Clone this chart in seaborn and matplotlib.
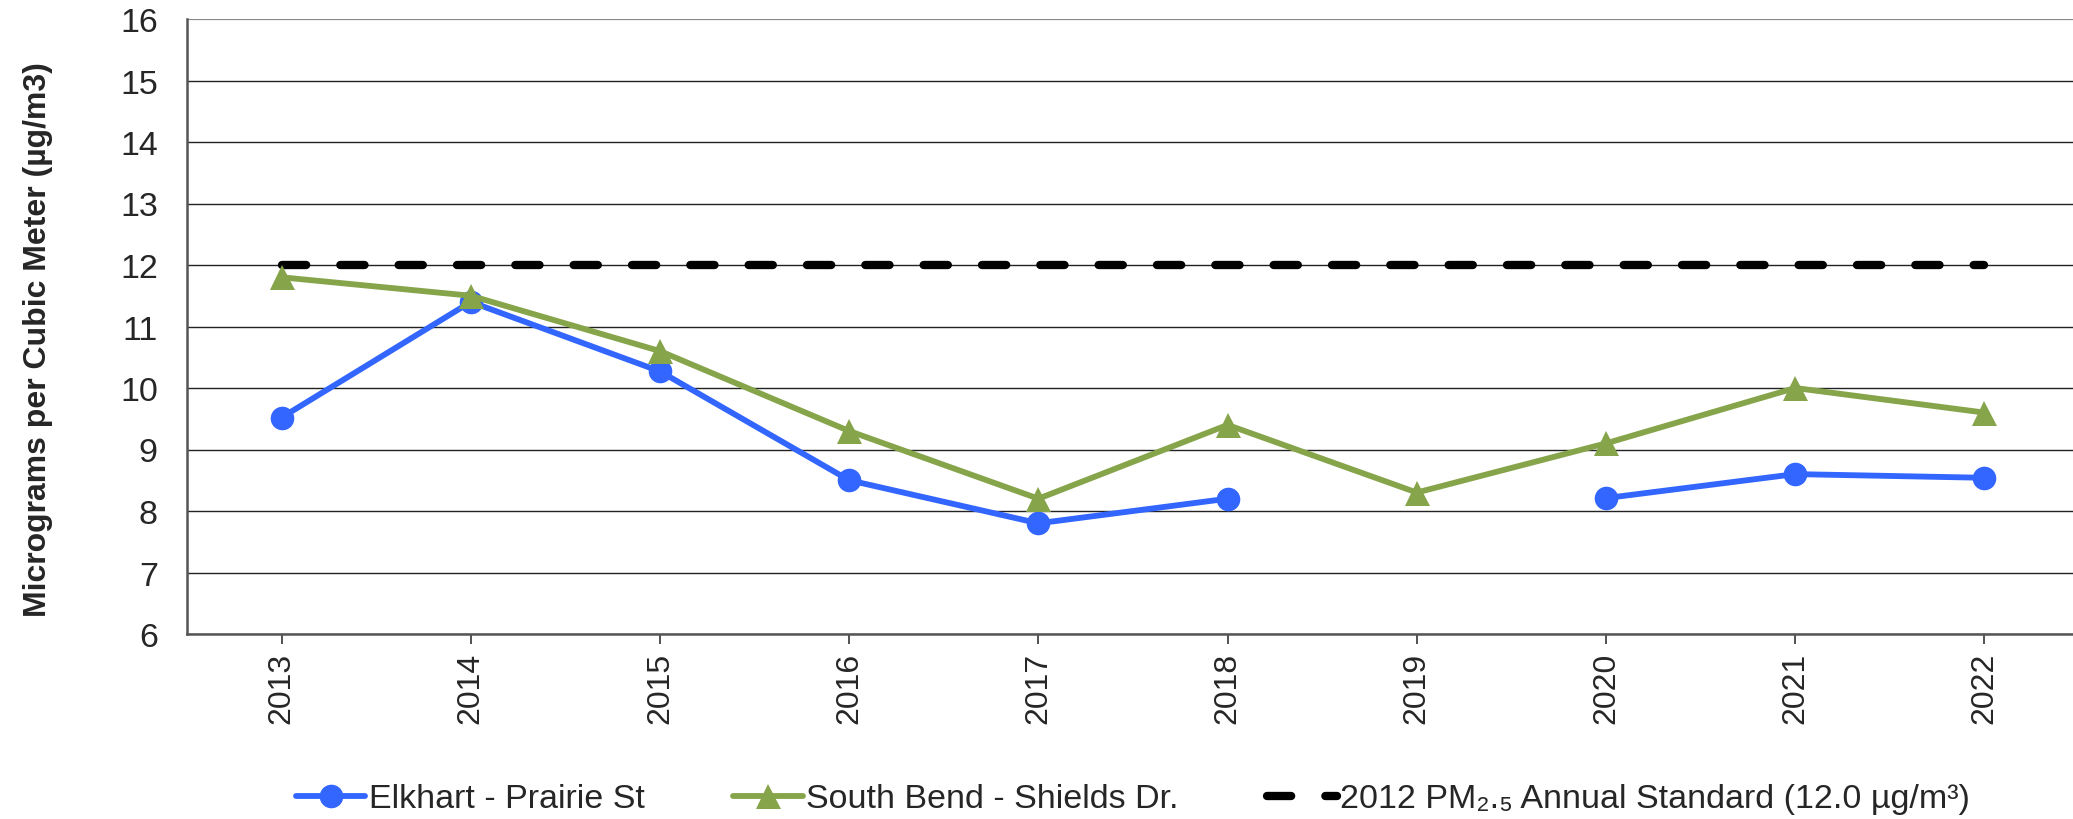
import numpy as np
import pandas as pd
import matplotlib
matplotlib.use("Agg")
import matplotlib.pyplot as plt
import seaborn as sns
from matplotlib.lines import Line2D

years = [2013, 2014, 2015, 2016, 2017, 2018, 2019, 2020, 2021, 2022]
elkhart = [9.52, 11.40, 10.27, 8.50, 7.80, 8.20, np.nan, 8.21, 8.60, 8.54]
south_bend = [11.80, 11.50, 10.60, 9.30, 8.20, 9.40, 8.30, 9.10, 10.00, 9.60]
standard = [12.0] * 10
y_ticks = list(range(6, 17))

label_elk = "Elkhart - Prairie St"
label_sb = "South Bend - Shields Dr."
label_std = "2012 PM\u2082.\u2085 Annual Standard (12.0 \u00b5g/m\u00b3)"
ylabel = "Micrograms per Cubic Meter (\u00b5g/m3)"

sns.set_theme(style="white")
plt.rcParams["font.family"] = ["Liberation Sans", "DejaVu Sans"]

BLUE = "#3366FF"
GREEN = "#86A44A"
FS = 24.5

fig = plt.figure(figsize=(20.73, 8.2), dpi=100)
ax = fig.add_axes([187 / 2073, 1 - 635 / 820, 1892 / 2073, 615 / 820])

# gridlines
for t in y_ticks:
    ax.axhline(t, color="#888888" if t == 16 else "#222222", lw=1.0 if t != 16 else 1.6, zorder=0)

df = pd.DataFrame({"year": years, "elk": elkhart, "sb": south_bend, "std": standard})
df["elk_seg"] = df["elk"].isna().cumsum()

DASH = (0, (2.9, 4.1))
LW = 4.2
sns.lineplot(data=df, x="year", y="std", color="black", lw=6.0, ax=ax,
             linestyle=DASH, dash_capstyle="round", zorder=2)
elk_df = df.dropna(subset=["elk"])
sns.lineplot(data=elk_df, x="year", y="elk", units="elk_seg", estimator=None,
             color=BLUE, lw=LW, marker="o", markersize=17, markeredgewidth=0,
             ax=ax, zorder=3)
sns.lineplot(data=df, x="year", y="sb", color=GREEN, lw=LW, marker="^",
             markersize=18, markeredgewidth=0, ax=ax, zorder=3)

ax.set_xlim(2012.5, 2022.5)
ax.set_ylim(6, 16)
ax.set_yticks(y_ticks)
ax.set_xticks(years)
ax.set_xticklabels([str(y) for y in years], rotation=90, fontsize=23)
ax.set_yticklabels([str(t) for t in y_ticks], fontsize=FS)
ax.tick_params(axis="y", length=0, pad=21)
ax.tick_params(axis="x", length=7, width=1.3, color="#444444", pad=6, bottom=True, direction="out")
ax.set_xlabel("")
ax.set_ylabel(ylabel, fontsize=23, fontweight="bold")
ax.yaxis.set_label_coords(-0.071, 0.48)

for s in ["top", "right"]:
    ax.spines[s].set_visible(False)
for s in ["left", "bottom"]:
    ax.spines[s].set_color("#555555")
    ax.spines[s].set_linewidth(1.8)

handles = [
    Line2D([], [], color=BLUE, lw=LW, marker="o", markersize=17, markeredgewidth=0),
    Line2D([], [], color=GREEN, lw=LW, marker="^", markersize=18, markeredgewidth=0),
    Line2D([], [], color="black", lw=6.0, linestyle=DASH, dash_capstyle="round"),
]
leg = fig.legend(handles, [label_elk, label_sb, label_std], loc="center",
                 bbox_to_anchor=(1133 / 2073, 1 - 800 / 820), ncol=3, frameon=False,
                 fontsize=FS, handlelength=2.05, handletextpad=0.1, columnspacing=2.6)

fig.savefig("out.png", dpi=100)
